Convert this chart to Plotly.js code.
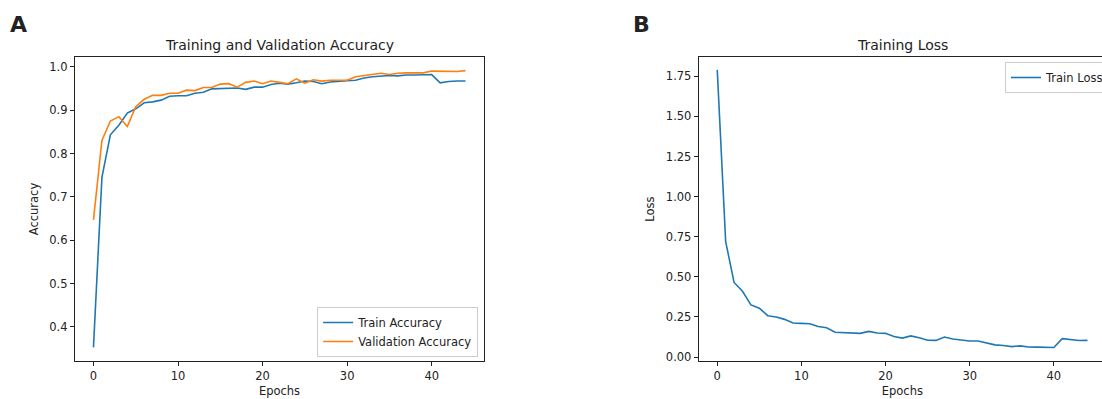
<!DOCTYPE html>
<html><head><meta charset="utf-8">
<script src="https://cdn.plot.ly/plotly-3.0.1.min.js"></script>
<style>html,body{margin:0;padding:0;overflow:hidden;background:#fff;}#chart{width:1110px;height:399px;}</style>
</head><body><div id="chart"></div>
<script>
const epochs = Array.from({length: 45}, (_, i) => i);
const trainAcc = [0.353,0.745,0.843,0.865,0.893,0.903,0.917,0.919,0.923,0.932,0.933,0.933,0.939,0.941,0.949,0.950,0.951,0.951,0.948,0.953,0.953,0.959,0.962,0.960,0.963,0.967,0.966,0.961,0.965,0.967,0.968,0.969,0.974,0.977,0.978,0.980,0.979,0.981,0.981,0.981,0.982,0.963,0.966,0.967,0.967];
const valAcc = [0.647,0.830,0.875,0.885,0.862,0.908,0.925,0.934,0.934,0.939,0.939,0.946,0.945,0.952,0.952,0.960,0.961,0.953,0.964,0.967,0.961,0.967,0.964,0.961,0.972,0.962,0.970,0.967,0.969,0.969,0.969,0.977,0.980,0.982,0.985,0.982,0.985,0.986,0.986,0.986,0.990,0.990,0.990,0.989,0.991];
const trainLoss = [1.79,0.72,0.465,0.41,0.325,0.305,0.258,0.25,0.235,0.212,0.21,0.208,0.19,0.183,0.155,0.152,0.152,0.148,0.16,0.15,0.148,0.128,0.118,0.132,0.12,0.105,0.104,0.125,0.113,0.105,0.1,0.1,0.088,0.076,0.072,0.065,0.07,0.063,0.062,0.061,0.06,0.115,0.11,0.103,0.104];

const W = 1110, H = 399;
const FONT = 'DejaVu Sans, sans-serif';
const blue = '#1f77b4', orange = '#ff7f0e';
const FS = 11.5;

const axBase = {
  showline: true, mirror: true, linecolor: '#222', linewidth: 1,
  ticks: 'outside', ticklen: 4, tickcolor: '#222', showgrid: false, zeroline: false,
  tickfont: {family: FONT, size: FS, color: '#222'}
};

const traces = [
  {x: epochs, y: trainAcc, type: 'scatter', mode: 'lines', name: 'Train Accuracy', line: {color: blue, width: 1.6}, xaxis: 'x', yaxis: 'y', legend: 'legend'},
  {x: epochs, y: valAcc, type: 'scatter', mode: 'lines', name: 'Validation Accuracy', line: {color: orange, width: 1.6}, xaxis: 'x', yaxis: 'y', legend: 'legend'},
  {x: epochs, y: trainLoss, type: 'scatter', mode: 'lines', name: 'Train Loss', line: {color: blue, width: 1.6}, xaxis: 'x2', yaxis: 'y2', legend: 'legend2'}
];

const yTop = 1 - 57 / H, yBot = 1 - 361 / H;
const titleFont = {family: FONT, size: FS, color: '#222'};
const layout = {
  width: W, height: H,
  margin: {l: 0, r: 0, t: 0, b: 0},
  paper_bgcolor: '#fff', plot_bgcolor: '#fff',
  font: {family: FONT, size: FS, color: '#222'},
  xaxis: Object.assign({}, axBase, {domain: [75 / W, 485 / W], range: [-2.2, 46.2], tickvals: [0, 10, 20, 30, 40],
    title: {text: 'Epochs', font: titleFont, standoff: 5}}),
  yaxis: Object.assign({}, axBase, {domain: [yBot, yTop], range: [0.3215, 1.0225], tickvals: [0.4, 0.5, 0.6, 0.7, 0.8, 0.9, 1.0], ticktext: ['0.4','0.5','0.6','0.7','0.8','0.9','1.0'],
    title: {text: 'Accuracy', font: titleFont, standoff: 8}}),
  xaxis2: Object.assign({}, axBase, {anchor: 'y2', domain: [700 / W, 1108 / W], range: [-2.2, 46.2], tickvals: [0, 10, 20, 30, 40],
    title: {text: 'Epochs', font: titleFont, standoff: 5}}),
  yaxis2: Object.assign({}, axBase, {anchor: 'x2', domain: [yBot, yTop], range: [-0.0245, 1.8705], tickvals: [0, 0.25, 0.5, 0.75, 1.0, 1.25, 1.5, 1.75], ticktext: ['0.00','0.25','0.50','0.75','1.00','1.25','1.50','1.75'],
    title: {text: 'Loss', font: titleFont, standoff: 8}}),
  legend: {x: 479 / W, y: 1 - 357 / H, xanchor: 'right', yanchor: 'bottom', bgcolor: 'rgba(255,255,255,0.8)', bordercolor: '#ccc', borderwidth: 1,
    font: {family: FONT, size: FS, color: '#222'}, itemwidth: 30, tracegroupgap: 0},
  legend2: {x: 1007 / W, y: 1 - 62 / H, xanchor: 'left', yanchor: 'top', bgcolor: 'rgba(255,255,255,0.8)', bordercolor: '#ccc', borderwidth: 1,
    font: {family: FONT, size: FS, color: '#222'}, itemwidth: 30},
  annotations: [
    {text: 'Training and Validation Accuracy', x: 280 / W, y: 1 - 45 / H, xref: 'paper', yref: 'paper', showarrow: false, xanchor: 'center', yanchor: 'middle', font: {family: FONT, size: 14, color: '#222'}},
    {text: 'Training Loss', x: 904 / W, y: 1 - 45 / H, xref: 'paper', yref: 'paper', showarrow: false, xanchor: 'center', yanchor: 'middle', font: {family: FONT, size: 14, color: '#222'}},
    {text: '<b>A</b>', x: 8 / W, y: 1 - 25 / H, xref: 'paper', yref: 'paper', showarrow: false, xanchor: 'left', yanchor: 'middle', font: {family: FONT, size: 22, color: '#222'}},
    {text: '<b>B</b>', x: 632 / W, y: 1 - 25 / H, xref: 'paper', yref: 'paper', showarrow: false, xanchor: 'left', yanchor: 'middle', font: {family: FONT, size: 22, color: '#222'}}
  ],
  showlegend: true
};

Plotly.newPlot('chart', traces, layout, {displayModeBar: false, staticPlot: true});
</script>
</body></html>
